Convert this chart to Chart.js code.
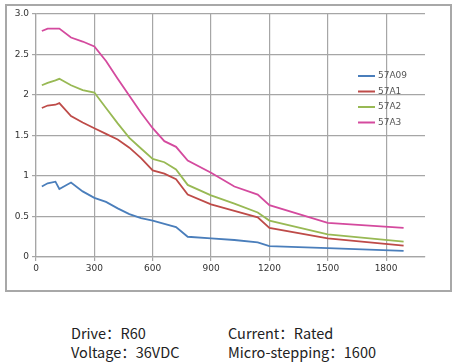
<!DOCTYPE html>
<html>
<head>
<meta charset="utf-8">
<script src="https://cdn.jsdelivr.net/npm/chart.js@4"></script>
<style>
  body { margin: 0; background: #fff; }
  #wrap { position: relative; width: 457px; height: 364px; }
  #frame { position: absolute; left: 5px; top: 4px; width: 447px; height: 288px; box-sizing: border-box; border: 2px solid #a8a8a8; pointer-events: none; }
  canvas { position: absolute; left: 0; top: 0; }
  .note { position: absolute; font-family: "Noto Sans CJK SC", "Noto Sans", sans-serif; font-size: 14.5px; color: #222; white-space: nowrap; line-height: 18px; }
</style>
</head>
<body>
<div id="wrap">
  <canvas id="chart" width="457" height="300"></canvas>
  <div id="frame"></div>
  <div class="note" style="left:71px; top:324px;">Drive：R60</div>
  <div class="note" style="left:228px; top:324px;">Current：Rated</div>
  <div class="note" style="left:71px; top:343px;">Voltage：36VDC</div>
  <div class="note" style="left:228px; top:343px;">Micro-stepping：1600</div>
</div>
<script>
const speeds = [30, 60, 100, 120, 180, 240, 300, 360, 420, 480, 540, 600, 660, 720, 780, 900, 1020, 1140, 1200, 1500, 1890];
const a09 = [0.87, 0.91, 0.93, 0.84, 0.92, 0.81, 0.73, 0.68, 0.60, 0.53, 0.48, 0.45, 0.41, 0.37, 0.25, 0.23, 0.21, 0.18, 0.135, 0.11, 0.075];
const a1  = [1.84, 1.87, 1.88, 1.90, 1.74, 1.66, 1.59, 1.52, 1.45, 1.35, 1.22, 1.07, 1.03, 0.96, 0.77, 0.65, 0.57, 0.49, 0.36, 0.23, 0.14];
const a2  = [2.12, 2.15, 2.18, 2.20, 2.12, 2.06, 2.03, 1.84, 1.65, 1.47, 1.34, 1.21, 1.17, 1.08, 0.89, 0.76, 0.66, 0.55, 0.45, 0.28, 0.19];
const a3  = [2.79, 2.82, 2.82, 2.82, 2.71, 2.66, 2.60, 2.42, 2.20, 1.99, 1.78, 1.59, 1.43, 1.36, 1.19, 1.04, 0.87, 0.77, 0.64, 0.42, 0.36];
const seriesNames = ['57A09', '57A1', '57A2', '57A3'];
const xTicks = [0, 300, 600, 900, 1200, 1500, 1800];
const xTickLabels = ['0', '300', '600', '900', '1200', '1500', '1800'];
const yTicks = [0, 0.5, 1, 1.5, 2, 2.5, 3];
const yTickLabels = ['0', '0.5', '1', '1.5', '2', '2.5', '3.0'];

const colors = ['#4a7ebb', '#be4b48', '#98b954', '#d44a9e'];
const toPoints = vals => vals.map((v, i) => ({ x: speeds[i], y: v }));

// legend drawn inside the plot, like the original
const innerLegend = {
  id: 'innerLegend',
  afterDraw(chart) {
    const c = chart.ctx;
    c.save();
    c.font = '9px "DejaVu Sans", sans-serif';
    c.textBaseline = 'middle';
    chart.data.datasets.forEach((ds, i) => {
      const y = 76 + i * 15.5;
      c.strokeStyle = ds.borderColor;
      c.lineWidth = 2;
      c.beginPath();
      c.moveTo(358, y);
      c.lineTo(375, y);
      c.stroke();
      c.fillStyle = '#555';
      c.fillText(ds.label, 378, y);
    });
    c.restore();
  }
};

new Chart(document.getElementById('chart').getContext('2d'), {
  type: 'line',
  data: {
    datasets: [a09, a1, a2, a3].map((vals, i) => ({
      label: seriesNames[i],
      data: toPoints(vals),
      borderColor: colors[i],
      backgroundColor: colors[i],
      borderWidth: 1.8,
      pointRadius: 0,
      tension: 0,
      fill: false
    }))
  },
  options: {
    responsive: false,
    animation: false,
    layout: { padding: { top: 14, right: 32, bottom: 0, left: 0 } },
    plugins: { legend: { display: false }, tooltip: { enabled: false } },
    scales: {
      x: {
        type: 'linear',
        min: 0,
        max: 2000,
        afterBuildTicks: s => { s.ticks = xTicks.map(v => ({ value: v })); },
        afterFit: s => { s.height = 43; },
        grid: { color: '#a6a6a6', lineWidth: 1.2, tickLength: 4 },
        border: { color: '#a6a6a6', width: 1.2 },
        ticks: {
          padding: 2,
          color: '#333',
          font: { size: 9, family: 'DejaVu Sans' },
          maxRotation: 0,
          callback: v => xTickLabels[xTicks.indexOf(v)]
        }
      },
      y: {
        min: 0,
        max: 3,
        afterBuildTicks: s => { s.ticks = yTicks.map(v => ({ value: v })); },
        afterFit: s => { s.width = 36; },
        grid: { color: '#a6a6a6', lineWidth: 1.2, tickLength: 4 },
        border: { color: '#a6a6a6', width: 1.2 },
        ticks: {
          padding: 3,
          color: '#333',
          font: { size: 9, family: 'DejaVu Sans' },
          callback: v => yTickLabels[yTicks.indexOf(v)]
        }
      }
    }
  },
  plugins: [innerLegend]
});
</script>
</body>
</html>
